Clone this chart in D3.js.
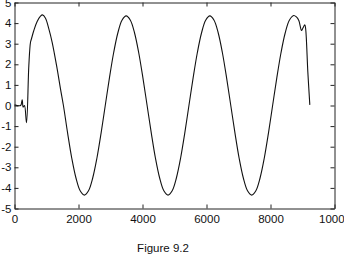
<!DOCTYPE html>
<html>
<head>
<script src="https://d3js.org/d3.v7.min.js"></script>
<style>
  body { margin: 0; background: #fff; }
  svg { display: block; font-family: Arial, "Liberation Sans", sans-serif; }
</style>
</head>
<body>
<svg width="344" height="259"></svg>
<script>

var xTicks = [0, 2000, 4000, 6000, 8000, 10000]
var yTicks = [-5, -4, -3, -2, -1, 0, 1, 2, 3, 4, 5]
var caption = "Figure 9.2"

// sample index and signal value
var sampleX = [0, 190, 240, 270, 312, 375, 448, 500, 531, 604, 708, 812, 875,
  969, 1073, 1177, 1333, 1437, 1529, 1660, 1790, 1921, 2052, 2183, 2313, 2444,
  2575, 2706, 2836, 2967, 3098, 3229, 3359, 3490, 3621, 3752, 3882, 4013, 4144,
  4275, 4405, 4536, 4667, 4798, 4928, 5059, 5190, 5321, 5451, 5582, 5713, 5844,
  5974, 6105, 6236, 6367, 6497, 6628, 6759, 6890, 7020, 7151, 7282, 7413, 7543,
  7674, 7805, 7936, 8066, 8197, 8328, 8459, 8589, 8725, 8810, 8885, 8969, 9010,
  9073, 9100, 9167, 9229]
var sampleY = [0.03, 0.0, 0.28, -0.08, 0.0, -0.84, 1.94, 3.07, 3.24, 3.64, 4.08, 4.34, 4.40,
  4.24, 3.72, 3.07, 1.78, 0.81, 0.0, -1.34, -2.56, -3.52, -4.14, -4.35, -4.14, -3.52,
  -2.56, -1.34, 0.0, 1.34, 2.56, 3.52, 4.14, 4.35, 4.14, 3.52, 2.56, 1.34, 0.0,
  -1.34, -2.56, -3.52, -4.14, -4.35, -4.14, -3.52, -2.56, -1.34, 0.0, 1.34, 2.56, 3.52,
  4.14, 4.35, 4.14, 3.52, 2.56, 1.34, 0.0, -1.34, -2.56, -3.52, -4.14, -4.35, -4.14,
  -3.52, -2.56, -1.34, 0.0, 1.34, 2.56, 3.52, 4.14, 4.37, 4.30, 4.13, 3.64, 3.75,
  3.92, 3.70, 1.62, 0.03]

var svg = d3.select("svg")

var x = d3.scaleLinear().domain([0, 10000]).range([14.5, 334.5])
var y = d3.scaleLinear().domain([-5, 5]).range([208.5, 2.5])

var data = sampleX.map(function(d, i) { return [d, sampleY[i]] })

var line = d3.line()
  .x(function(d) { return x(d[0]) })
  .y(function(d) { return y(d[1]) })
  .curve(d3.curveCatmullRom.alpha(0.5))

svg.append("path")
  .datum(data)
  .attr("d", line)
  .attr("fill", "none")
  .attr("stroke", "#111")
  .attr("stroke-width", 1.1)

// plain labels, hyphen minus, no thousands separator
var plain = function(d) { return String(d) }

// box with inward ticks on every side
var tl = 4

svg.append("g")
  .attr("transform", "translate(0,208.5)")
  .call(d3.axisBottom(x).tickValues(xTicks).tickFormat(plain).tickSizeInner(-tl).tickSizeOuter(0).tickPadding(6))
svg.append("g")
  .attr("transform", "translate(0,2.5)")
  .call(d3.axisTop(x).tickValues(xTicks).tickSizeInner(-tl).tickSizeOuter(0).tickFormat(""))
svg.append("g")
  .attr("transform", "translate(14.5,0)")
  .call(d3.axisLeft(y).tickValues(yTicks).tickFormat(plain).tickSizeInner(-tl).tickSizeOuter(0).tickPadding(3))
svg.append("g")
  .attr("transform", "translate(334.5,0)")
  .call(d3.axisRight(y).tickValues(yTicks).tickSizeInner(-tl).tickSizeOuter(0).tickFormat(""))

svg.selectAll(".domain").attr("stroke", "#222")
svg.selectAll(".tick line").attr("stroke", "#222")
svg.selectAll(".tick text")
  .attr("fill", "#111")
  .style("font-size", "11.5px")
  .style("font-family", "Arial, 'Liberation Sans', sans-serif")

svg.append("text")
  .attr("x", 163)
  .attr("y", 252)
  .attr("text-anchor", "middle")
  .attr("fill", "#111")
  .style("font-size", "11.5px")
  .text(caption)

</script>
</body>
</html>
